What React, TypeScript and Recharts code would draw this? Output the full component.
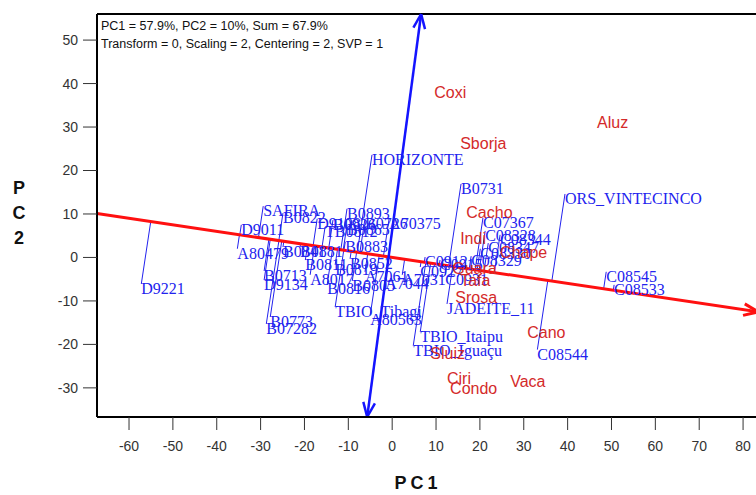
import { ScatterChart, Scatter, XAxis, YAxis, ReferenceLine } from 'recharts';

// genotypes (blue, with projection onto the AEC abscissa)
const GENOTYPE_NAMES = [
  'HORIZONTE', 'B0731', 'ORS_VINTECINCO', 'SAFIRA', 'B0822', 'B0893', 'D9011', 'D9108',
  'B0926', 'B0865', 'B0726', 'A70375', 'TB0812', 'B0883', 'B0841', 'B0881', 'A80479',
  'B0811', 'B0819', 'B0713', 'D9134', 'A8017', 'B0816', 'B0773', 'B07282', 'D9221',
  'TBIO_Tibagi', 'A80563', 'A7044', 'B0852', 'A7061', 'B0805', 'C07367', 'C08328',
  'C08344', 'C08347', 'C08330', 'C08329', 'C0912', 'C0915', 'C0927', 'A7031', 'C0931',
  'JADEITE_11', 'TBIO_Itaipu', 'TBIO_Iguaçu', 'C08544', 'C08545', 'C08533'
];
const GENOTYPE_PC1 = [
  -4.6, 15.7, 39.4, -29.4, -24.9, -10.3, -34.4, -17.1,
  -13.5, -10.3, -6.2, -0.7, -15.3, -10.7, -24.9, -21.0, -35.3,
  -19.8, -13.0, -29.2, -29.2, -18.7, -14.8, -27.8, -28.7, -57.2,
  -13.0, -5.0, -1.6, -9.6, -6.2, -9.1, 20.7, 21.2,
  24.6, 21.9, 20.1, 18.0, 7.5, 10.9, 6.4, 2.3, 12.1,
  12.5, 6.4, 4.8, 33.1, 48.8, 50.6
];
const GENOTYPE_PC2 = [
  23.6, 16.9, 14.6, 11.8, 10.2, 11.2, 7.5, 8.9,
  8.6, 7.5, 8.9, 8.9, 7.0, 3.6, 2.4, 2.4, 2.0,
  -0.6, -1.7, -3.1, -5.2, -4.0, -6.1, -13.7, -15.3, -6.1,
  -11.4, -13.2, -4.9, -0.3, -3.3, -5.4, 9.1, 6.1,
  5.2, 3.3, 2.0, 0.3, 0.1, -0.6, -2.2, -4.0, -4.0,
  -10.7, -17.1, -20.3, -21.2, -3.3, -6.3
];

// environments (red)
const ENV_NAMES = ['Coxi', 'Aluz', 'Sborja', 'Cacho', 'Indi', 'Chape', 'Guara', 'Tafa', 'Srosa', 'Cano', 'Sluiz', 'Ciri', 'Condo', 'Vaca'];
const ENV_PC1 = [9.6, 46.7, 15.5, 16.9, 15.5, 24.6, 13.7, 15.5, 14.4, 30.8, 8.7, 12.5, 13.2, 26.9];
const ENV_PC2 = [38.0, 31.1, 26.3, 10.5, 4.5, 1.3, -2.4, -5.2, -9.1, -17.1, -21.9, -27.7, -30.0, -28.4];

const X_TICKS = [-60, -50, -40, -30, -20, -10, 0, 10, 20, 30, 40, 50, 60, 70, 80];
const Y_TICKS = [-30, -20, -10, 0, 10, 20, 30, 40, 50];
const X_DOMAIN = [-67.3, 85];
const Y_DOMAIN = [-36.7, 56];

// average environment coordinate axes
const AEC_ABSCISSA = [{ x: -67.3, y: 10.1 }, { x: 83.5, y: -12.5 }];
const AEC_ORDINATE = [{ x: -5.7, y: -36.7 }, { x: 6.6, y: 56 }];

const BLUE = '#2222ee';
const RED = '#d42a2a';

const genotypes = GENOTYPE_NAMES.map((name, i) => ({ name, x: GENOTYPE_PC1[i], y: GENOTYPE_PC2[i] }));
const environments = ENV_NAMES.map((name, i) => ({ name, x: ENV_PC1[i], y: ENV_PC2[i] }));

// projection of a point onto the abscissa
function project(p: { x: number; y: number }) {
  const [a, b] = AEC_ABSCISSA;
  const dx = b.x - a.x, dy = b.y - a.y;
  const len = Math.hypot(dx, dy);
  const ux = dx / len, uy = dy / len;
  const t = (p.x - a.x) * ux + (p.y - a.y) * uy;
  return { x: a.x + t * ux, y: a.y + t * uy };
}

function wings(from: { x: number; y: number }, tip: { x: number; y: number }, size = 3.6, ang = 0.38) {
  const dx = from.x - tip.x, dy = from.y - tip.y;
  const len = Math.hypot(dx, dy);
  const ux = dx / len, uy = dy / len;
  return [ang, -ang].map((a) => {
    const c = Math.cos(a), s = Math.sin(a);
    return [tip, { x: tip.x + size * (ux * c - uy * s), y: tip.y + size * (ux * s + uy * c) }];
  });
}

const arrows = [
  ...wings(AEC_ABSCISSA[0], AEC_ABSCISSA[1]),
  ...wings(AEC_ORDINATE[0], AEC_ORDINATE[1]),
  ...wings(AEC_ORDINATE[1], AEC_ORDINATE[0]),
];

const GenoLabel = (props: any) => {
  const { cx, cy, payload } = props;
  return (
    <text x={cx} y={cy + 10} fill={BLUE} fontSize={16} fontFamily="'Liberation Serif', 'Times New Roman', serif">
      {payload.name}
    </text>
  );
};

const EnvLabel = (props: any) => {
  const { cx, cy, payload } = props;
  return (
    <text x={cx} y={cy + 6} fill={RED} fontSize={16} fontFamily="'Liberation Sans', Arial, sans-serif">
      {payload.name}
    </text>
  );
};

const tickStyle = { fill: '#333', fontSize: 14, fontFamily: "'Liberation Sans', Arial, sans-serif" };
const titleStyle: React.CSSProperties = {
  position: 'absolute', fontFamily: "'Liberation Sans', Arial, sans-serif", fontWeight: 'bold', fontSize: 18, color: '#111'
};

export default function App() {
  return (
    <div style={{ position: 'absolute', left: 0, top: 0, width: 756, height: 495, overflow: 'hidden', background: '#fff' }}>
      <ScatterChart width={770} height={495} margin={{ top: 14, right: 5, bottom: 38, left: 37 }}>
        <XAxis
          type="number" dataKey="x" domain={X_DOMAIN} ticks={X_TICKS} allowDataOverflow
          height={40} tickSize={13} tickMargin={11} tick={tickStyle}
          axisLine={{ stroke: '#000', strokeWidth: 2 }} tickLine={{ stroke: '#333' }}
        />
        <YAxis
          type="number" dataKey="y" domain={Y_DOMAIN} ticks={Y_TICKS} allowDataOverflow
          width={60} tickSize={14} tickMargin={5} tick={tickStyle}
          axisLine={{ stroke: '#000', strokeWidth: 2 }} tickLine={{ stroke: '#333' }}
        />
        <ReferenceLine y={Y_DOMAIN[1]} stroke="#000" strokeWidth={2} />
        <Scatter data={genotypes} shape={GenoLabel} isAnimationActive={false} />
        <Scatter data={environments} shape={EnvLabel} isAnimationActive={false} />
        {genotypes.map((g) => (
          <ReferenceLine key={'p' + g.name} segment={[{ x: g.x, y: g.y }, project(g)]} stroke={BLUE} strokeWidth={1} ifOverflow="visible" />
        ))}
        <ReferenceLine segment={AEC_ABSCISSA} stroke="#ff1010" strokeWidth={3} ifOverflow="visible" />
        <ReferenceLine segment={AEC_ORDINATE} stroke="#1414ff" strokeWidth={2.5} ifOverflow="visible" />
        {arrows.map((seg, i) => (
          <ReferenceLine key={'a' + i} segment={seg} stroke={i < 2 ? '#ff1010' : '#1414ff'} strokeWidth={i < 2 ? 3 : 2.5} ifOverflow="visible" />
        ))}
      </ScatterChart>
      <div style={{ position: 'absolute', left: 101, top: 17, fontFamily: "'Liberation Sans', Arial, sans-serif", fontSize: 12.5, lineHeight: '18px', color: '#111' }}>
        <div>PC1 = 57.9%, PC2 = 10%, Sum = 67.9%</div>
        <div>Transform = 0, Scaling = 2, Centering = 2, SVP = 1</div>
      </div>
      <div style={{ ...titleStyle, left: 0, top: 473, width: 836, textAlign: 'center', letterSpacing: 4 }}>PC1</div>
      <div style={{ ...titleStyle, left: 12, top: 176, width: 14, textAlign: 'center', lineHeight: '25px' }}>
        <div>P</div><div>C</div><div>2</div>
      </div>
    </div>
  );
}
